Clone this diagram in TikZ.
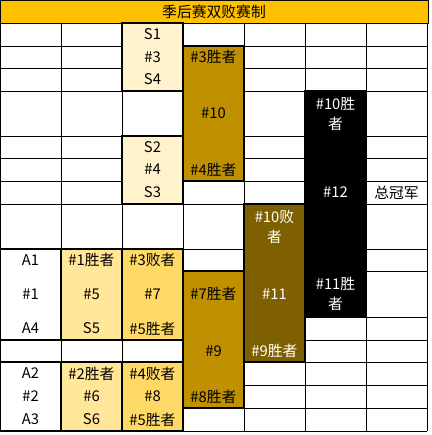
\documentclass[tikz,border=0pt]{standalone}
\usepackage{fontspec}
\setmainfont{Noto Sans CJK SC}
\usetikzlibrary{positioning}
\definecolor{titlegold}{HTML}{FFC000}
\definecolor{cream}{HTML}{FFF2CC}
\definecolor{paleyellow}{HTML}{FFE699}
\definecolor{yellow}{HTML}{FFD966}
\definecolor{gold}{HTML}{BF9000}
\definecolor{brown}{HTML}{7F6000}
\tikzset{
    every node/.style={font=\fontsize{14.8}{20}\selectfont, inner sep=0pt, outer sep=0pt}, % all cell texts
    gridline/.style={line width=0.8pt}, % thin lines of the sheet
    block/.style={draw, line width=2pt, anchor=north west, minimum width=61pt}, % merged cells
    cell/.style={align=center}, % text in one cell
    light/.style={cell, text=white},
}
\begin{document}
\begin{tikzpicture}[x=1pt, y=-1pt]
        \useasboundingbox (0,0) rectangle (431,435);
        \fill[white] (0,0) rectangle (431,435);

        % title bar
        \node[draw=black, line width=0.8pt, fill=titlegold, anchor=north west, minimum width=428pt, minimum height=23pt] (title) at (0,0) {};
        \node[cell] (title_text) at (title.center) {季后赛双败赛制};

        % grid lines of the sheet
        \foreach \y in {23,46,68,91,136,158,181,204,249,271,317,340,362,385,408,431}
            \draw[gridline] (0,\y) -- (427,\y);
        \foreach \x in {0,61,122,183,244,305,366,427}
            \draw[gridline] (\x,23) -- (\x,431);

        % merged cells here
        % \node[block, <colour>, minimum height=<h>] (name) at (<top left>) {};
        \node[block, fill=cream, minimum height=68pt] (box_S1) at (122,23) {};
        \node[block, fill=cream, minimum height=68pt] (box_S2) at (122,136) {};
        \node[block, fill=gold, minimum height=135pt] (box_G10) at (183,46) {};
        \node[block, fill=black, minimum height=226pt] (box_G12) at (305,91) {};
        \node[block, fill=brown, minimum height=158pt] (box_G11) at (244,204) {};
        \node[block, fill=white, minimum height=91pt] (box_A1) at (0,249) {};
        \node[block, fill=paleyellow, minimum height=91pt] (box_G5) at (61,249) {};
        \node[block, fill=yellow, minimum height=91pt] (box_G7) at (122,249) {};
        \node[block, fill=gold, minimum height=137pt] (box_G9) at (183,271) {};
        \node[block, fill=white, minimum height=69pt] (box_A2) at (0,362) {};
        \node[block, fill=paleyellow, minimum height=69pt] (box_G6) at (61,362) {};
        \node[block, fill=yellow, minimum height=69pt] (box_G8) at (122,362) {};

        % texts of the upper half
        \node[cell] (t_S1) at (152.5,34.5) {S1};
        \node[cell] (t_N3) at (152.5,57) {\#3};
        \node[cell] (t_S4) at (152.5,79.5) {S4};
        \node[cell] (t_S2) at (152.5,147) {S2};
        \node[cell] (t_N4) at (152.5,169.5) {\#4};
        \node[cell] (t_S3) at (152.5,192.5) {S3};
        \node[cell] (t_W3) at (213.5,57) {\#3胜者};
        \node[cell] (t_N10) at (213.5,113.5) {\#10};
        \node[cell] (t_W4) at (213.5,169.5) {\#4胜者};
        \node[light] (t_W10) at (335.5,113.5) {\#10胜\\者};
        \node[light] (t_N12) at (335.5,192.5) {\#12};
        \node[cell] (t_champ) at (396.5,192.5) {总冠军};
        \node[light] (t_L10) at (274.5,226.5) {\#10败\\者};
        \node[light] (t_N11) at (274.5,294) {\#11};
        \node[light] (t_W11) at (335.5,294) {\#11胜\\者};
        \node[light] (t_W9) at (274.5,351) {\#9胜者};

        % texts of the lower half
        \node[cell] (t_A1) at (30.5,260) {A1};
        \node[cell] (t_N1) at (30.5,294) {\#1};
        \node[cell] (t_A4) at (30.5,328.5) {A4};
        \node[cell] (t_W1) at (91.5,260) {\#1胜者};
        \node[cell] (t_N5) at (91.5,294) {\#5};
        \node[cell] (t_S5) at (91.5,328.5) {S5};
        \node[cell] (t_L3) at (152.5,260) {\#3败者};
        \node[cell] (t_N7) at (152.5,294) {\#7};
        \node[cell] (t_W5a) at (152.5,328.5) {\#5胜者};
        \node[cell] (t_W7) at (213.5,294) {\#7胜者};
        \node[cell] (t_N9) at (213.5,351) {\#9};
        \node[cell] (t_W8) at (213.5,396.5) {\#8胜者};
        \node[cell] (t_A2) at (30.5,373.5) {A2};
        \node[cell] (t_N2) at (30.5,396.5) {\#2};
        \node[cell] (t_A3) at (30.5,419.5) {A3};
        \node[cell] (t_W2) at (91.5,373.5) {\#2胜者};
        \node[cell] (t_N6) at (91.5,396.5) {\#6};
        \node[cell] (t_S6) at (91.5,419.5) {S6};
        \node[cell] (t_L4) at (152.5,373.5) {\#4败者};
        \node[cell] (t_N8) at (152.5,396.5) {\#8};
        \node[cell] (t_W5b) at (152.5,419.5) {\#5胜者};
    \end{tikzpicture}
\end{document}
